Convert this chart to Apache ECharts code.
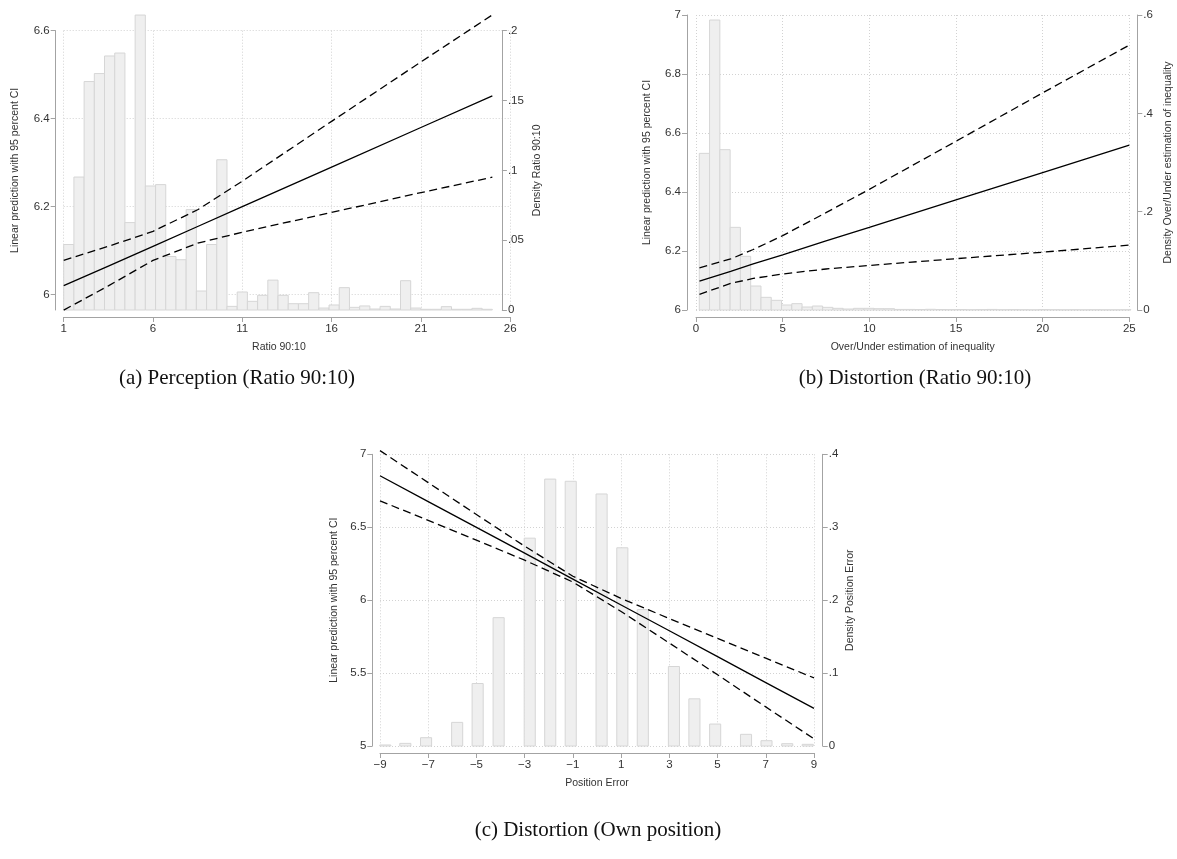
<!DOCTYPE html>
<html><head><meta charset="utf-8">
<script src="https://cdn.jsdelivr.net/npm/echarts@6/dist/echarts.min.js"></script>
<style>html,body{margin:0;padding:0;background:#fff}#c{width:1177px;height:859px}</style>
</head><body><div id="c"></div>
<script>
// ---------- Panel (a): Perception (Ratio 90:10) ----------
const aBinStart = 1, aBinWidth = 24 / 42;
const aDensity = [0.0469,0.0952,0.1636,0.1693,0.1819,0.1840,0.0626,0.2112,0.0888,0.0898,
  0.0383,0.0360,0.0719,0.0136,0.0469,0.1076,0.0026,0.0129,0.0062,0.0105,
  0.0214,0.0105,0.0045,0.0045,0.0124,0.0014,0.0036,0.0160,0.0019,0.0029,
  0.0007,0.0026,0.0007,0.0210,0.0014,0.0005,0.0005,0.0024,0.0005,0.0005,
  0.0012,0.0005];
const aX     = [1, 3.5, 6, 8.5, 11, 16, 21, 25];
const aFit   = [6.0205, 6.065, 6.110, 6.155, 6.200, 6.290, 6.380, 6.452];
const aUpper = [6.078, 6.110, 6.144, 6.193, 6.258, 6.394, 6.529, 6.636];
const aLower = [5.965, 6.020, 6.078, 6.117, 6.142, 6.187, 6.232, 6.267];
const aLeftTicks = [6, 6.2, 6.4, 6.6];

// ---------- Panel (b): Distortion (Ratio 90:10) ----------
const bBinStart = 0.19, bBinWidth = 0.593;
const bDensity = [0.3186,0.5898,0.3261,0.1681,0.1092,0.0488,0.0258,0.0197,0.0102,0.0129,
  0.0061,0.0081,0.0054,0.0034,0.0020,0.0034,0.0034,0.0027,0.0027,0.0012,
  0.0012,0.0010,0.0014,0.0010,0.0008,0.0010,0.0006,0.0008,0.0012,0.0006,
  0.0008,0.0006,0.0004,0.0008,0.0006,0.0004,0.0006,0.0004,0.0006,0.0004,
  0.0004,0.0006];
const bX     = [0.2, 2, 3.3, 5, 7.5, 10, 15, 20, 25];
const bFit   = [6.098, 6.131, 6.156, 6.187, 6.234, 6.280, 6.373, 6.466, 6.559];
const bUpper = [6.143, 6.173, 6.205, 6.252, 6.330, 6.409, 6.572, 6.736, 6.898];
const bLower = [6.053, 6.090, 6.107, 6.122, 6.139, 6.151, 6.174, 6.196, 6.220];

// ---------- Panel (c): Distortion (Own position) ----------
const cCenters = [-8.78,-7.95,-7.09,-5.80,-4.95,-4.08,-2.79,-1.94,-1.09,0.19,
  1.05,1.90,3.19,4.04,4.90,6.18,7.03,7.89,8.74];
const cDensity = [0.0014,0.0036,0.0114,0.0324,0.0857,0.176,0.285,0.366,0.363,0.3456,
  0.2718,0.187,0.109,0.0647,0.0301,0.016,0.0073,0.0032,0.0023];
const cBarWidth = 0.46;
const cX     = [-9, -7, -5, -3, -1, 1, 3, 5, 7, 9];
const cFit   = [6.853, 6.676, 6.499, 6.322, 6.144, 5.967, 5.790, 5.613, 5.435, 5.258];
const cUpper = [7.025, 6.806, 6.587, 6.370, 6.164, 6.012, 5.874, 5.738, 5.602, 5.467];
const cLower = [6.681, 6.547, 6.411, 6.274, 6.124, 5.922, 5.706, 5.488, 5.268, 5.049];

// ---------- helpers ----------
const FONT = 'Liberation Sans';
const TXT = '#333';
const AX = '#a3a3a3';
const pairs = (xs, ys) => xs.map((x, i) => [x, ys[i]]);
const histData = (start, w, dens) => dens.map((d, i) => [start + i * w, start + (i + 1) * w, d]);
const centerData = (cs, w, dens) => cs.map((c, i) => [c - w / 2, c + w / 2, dens[i]]);
function histItem(params, api) {
  const p0 = api.coord([api.value(0), 0]);
  const p1 = api.coord([api.value(1), api.value(2)]);
  return { type: 'rect',
    shape: { x: p0[0], y: p1[1], width: p1[0] - p0[0], height: p0[1] - p1[1] },
    style: { fill: '#efefef', stroke: '#d6d6d6', lineWidth: 1 } };
}
const gridLine = { show: true, lineStyle: { color: '#d2d2d2', type: [1, 2], width: 1 } };
const numFmt = v => String(+(+v).toFixed(3));
const densFmt = v => (+v === 0 ? '0' : String(+(+v).toFixed(3)).replace(/^0\./, '.'));
const minusFmt = v => (v < 0 ? '\u2212' + Math.abs(v) : String(v));

function xAxisCfg(gi, min, max, interval, name, fmt, namePad) {
  return { type: 'value', gridIndex: gi, min, max, interval, offset: 7,
    name, nameLocation: 'middle', nameGap: 25,
    nameTextStyle: { fontFamily: FONT, fontSize: 10.5, color: TXT, padding: namePad || 0 },
    axisLine: { show: true, onZero: false, lineStyle: { color: AX, width: 1 } },
    axisTick: { show: true, length: 5, lineStyle: { color: AX } },
    axisLabel: { margin: 6, fontFamily: FONT, fontSize: 11.5, color: TXT, formatter: fmt || numFmt },
    splitLine: gridLine };
}
function yAxisCfg(gi, pos, min, max, interval, name, nameGap, offset, fmt, split, custom) {
  const o = { type: 'value', gridIndex: gi, position: pos, min, max, offset,
    name, nameLocation: 'middle', nameGap,
    nameTextStyle: { fontFamily: FONT, fontSize: 10.5, color: TXT },
    axisLine: { show: true, onZero: false, lineStyle: { color: AX, width: 1 } },
    axisTick: { show: true, length: 5, lineStyle: { color: AX } },
    axisLabel: { margin: 6, fontFamily: FONT, fontSize: 11.5, color: TXT, formatter: fmt },
    splitLine: split ? gridLine : { show: false } };
  if (interval) o.interval = interval;
  if (custom) { o.axisTick.customValues = custom; o.axisLabel.customValues = custom; }
  return o;
}
function lineSeries(xi, yi, xs, ys, dashed) {
  return { type: 'line', xAxisIndex: xi, yAxisIndex: yi, data: pairs(xs, ys),
    symbol: 'none', clip: false, silent: true, z: 5,
    lineStyle: { color: '#000', width: 1.3, type: dashed ? [8, 4.5] : 'solid' } };
}

const chart = echarts.init(document.getElementById('c'), null, { renderer: 'canvas' });
chart.setOption({
  animation: false,
  backgroundColor: '#fff',
  grid: [
    { left: 63.7, top: 30.7, width: 446.5, height: 279.3 },
    { left: 696, top: 15, width: 433.3, height: 295 },
    { left: 380, top: 454.3, width: 434, height: 291.7 }
  ],
  xAxis: [
    xAxisCfg(0, 1, 26, 5, 'Ratio 90:10', numFmt, [0, 16, 0, 0]),
    xAxisCfg(1, 0, 25, 5, 'Over/Under estimation of inequality', numFmt),
    xAxisCfg(2, -9, 9, 2, 'Position Error', minusFmt)
  ],
  yAxis: [
    yAxisCfg(0, 'left', 5.9652, 6.6, null, 'Linear prediction with 95 percent CI', 35, 8, numFmt, true, aLeftTicks),
    yAxisCfg(0, 'right', 0, 0.2, 0.05, 'Density Ratio 90:10', 30, -8.3, densFmt, false),
    yAxisCfg(1, 'left', 6, 7, 0.2, 'Linear prediction with 95 percent CI', 34, 9, numFmt, true),
    yAxisCfg(1, 'right', 0, 0.6, 0.2, 'Density Over/Under estimation of inequality', 25, 8, densFmt, false),
    yAxisCfg(2, 'left', 5, 7, 0.5, 'Linear prediction with 95 percent CI', 33, 7.7, numFmt, true),
    yAxisCfg(2, 'right', 0, 0.4, 0.1, 'Density Position Error', 22, 8.7, densFmt, false)
  ],
  series: [
    { type: 'custom', xAxisIndex: 0, yAxisIndex: 1, renderItem: histItem, clip: false, silent: true,
      encode: { x: [0, 1], y: 2 }, data: histData(aBinStart, aBinWidth, aDensity), z: 2 },
    lineSeries(0, 0, aX, aFit, false),
    lineSeries(0, 0, aX, aUpper, true),
    lineSeries(0, 0, aX, aLower, true),
    { type: 'custom', xAxisIndex: 1, yAxisIndex: 3, renderItem: histItem, clip: false, silent: true,
      encode: { x: [0, 1], y: 2 }, data: histData(bBinStart, bBinWidth, bDensity), z: 2 },
    lineSeries(1, 2, bX, bFit, false),
    lineSeries(1, 2, bX, bUpper, true),
    lineSeries(1, 2, bX, bLower, true),
    { type: 'custom', xAxisIndex: 2, yAxisIndex: 5, renderItem: histItem, clip: false, silent: true,
      encode: { x: [0, 1], y: 2 }, data: centerData(cCenters, cBarWidth, cDensity), z: 2 },
    lineSeries(2, 4, cX, cFit, false),
    lineSeries(2, 4, cX, cUpper, true),
    lineSeries(2, 4, cX, cLower, true)
  ],
  graphic: [
    { type: 'text', x: 237, y: 378, style: { text: '(a) Perception (Ratio 90:10)', fontFamily: 'Liberation Serif', fontSize: 21, fill: '#111', align: 'center', verticalAlign: 'middle' } },
    { type: 'text', x: 915, y: 378, style: { text: '(b) Distortion (Ratio 90:10)', fontFamily: 'Liberation Serif', fontSize: 21, fill: '#111', align: 'center', verticalAlign: 'middle' } },
    { type: 'text', x: 598, y: 830, style: { text: '(c) Distortion (Own position)', fontFamily: 'Liberation Serif', fontSize: 21, fill: '#111', align: 'center', verticalAlign: 'middle' } }
  ]
});
</script></body></html>
